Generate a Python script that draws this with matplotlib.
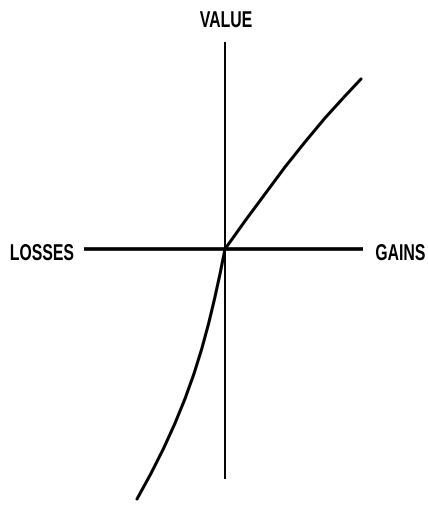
import matplotlib
matplotlib.use("Agg")
import matplotlib.pyplot as plt
from matplotlib.patheffects import AbstractPathEffect
from matplotlib.transforms import Affine2D

# value function (origin = reference point)
gains_x = [0, 10, 20, 40, 60, 80, 100, 120, 136]
gains_v = [0, 14, 28, 55, 82, 107, 131, 153, 170]
losses_x = [0, -5, -10.5, -16.5, -23.3, -31.1, -40.1, -50.3, -61.7, -74.3, -88]
losses_v = [0, -25, -50, -75, -100, -125, -150, -175, -200, -225, -250]

# axis extents
x_axis = [-141, 138]
v_axis = [-230, 207]

axis_labels = ["VALUE", "LOSSES", "GAINS"]


class Squeeze(AbstractPathEffect):
    """narrow the glyphs horizontally (condensed look), keeping the anchor"""

    def __init__(self, sx, anchor):
        super().__init__()
        self.sx = sx
        self.anchor = anchor

    def draw_path(self, renderer, gc, tpath, affine, rgbFace=None):
        ext = tpath.get_extents()
        cx = ext.x0 + self.anchor * (ext.x1 - ext.x0)
        pre = Affine2D().translate(-cx, 0).scale(self.sx, 1).translate(cx, 0)
        renderer.draw_path(gc, tpath, pre + affine, rgbFace)


SX = 0.69
txt = dict(fontsize=16.5, family=["Liberation Sans", "DejaVu Sans"],
           fontweight="bold", va="baseline")

fig = plt.figure(figsize=(4.28, 5.06), dpi=100)
ax = fig.add_axes([0, 0, 1, 1])
ax.set_xlim(-225, 203)
ax.set_ylim(-256, 250)
ax.axis("off")

ax.plot(x_axis, [0, 0], color="black", lw=2.6, solid_capstyle="butt")
ax.plot([0, 0], v_axis, color="black", lw=1.4, solid_capstyle="butt")

curve_x = losses_x[::-1] + gains_x[1:]
curve_v = losses_v[::-1] + gains_v[1:]
ax.plot(curve_x, curve_v, color="black", lw=2.2, solid_joinstyle="round",
        solid_capstyle="round")

ax.text(1, 222, axis_labels[0], ha="center",
        path_effects=[Squeeze(SX, 0.5)], **txt)
ax.text(-151, -11, axis_labels[1], ha="right",
        path_effects=[Squeeze(SX, 1.0)], **txt)
ax.text(150, -11, axis_labels[2], ha="left",
        path_effects=[Squeeze(SX, 0.0)], **txt)

fig.savefig("out.png", dpi=100)
